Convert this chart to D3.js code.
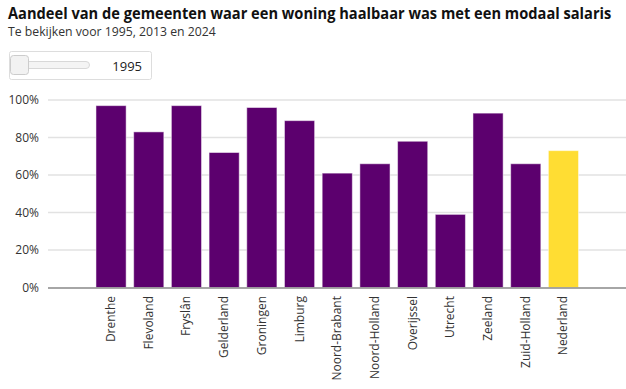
<!DOCTYPE html>
<html>
<head>
<meta charset="utf-8">
<script src="https://cdn.jsdelivr.net/npm/d3@7"></script>
<style>
  body { margin: 0; background: #fff; font-family: "Open Sans", sans-serif; }
  svg { display: block; }
</style>
</head>
<body>
<svg id="chart" width="626" height="389"></svg>
<script>
const provinces = ["Drenthe", "Flevoland", "Fryslân", "Gelderland", "Groningen", "Limburg",
  "Noord-Brabant", "Noord-Holland", "Overijssel", "Utrecht", "Zeeland", "Zuid-Holland", "Nederland"];
const share1995 = [97, 83, 97, 72, 96, 89, 61, 66, 78, 39, 93, 66, 73];
const yTicks = [0, 20, 40, 60, 80, 100];

const PURPLE = "#5c006e";
const YELLOW = "#ffdd33";

let svg = d3.select("#chart");

// Squeeze a text horizontally so it spans the given width
function fit_width(sel, x, y, width) {
  let w = sel.node().getComputedTextLength();
  let k = Math.min(1, width / w);
  sel.attr("x", 0).attr("y", 0)
    .attr("transform", `translate(${x},${y}) scale(${k},1)`);
}

// Title and subtitle
let title = svg.append("text")
  .style("font-size", "16px").style("font-weight", "bold").style("fill", "#111")
  .text("Aandeel van de gemeenten waar een woning haalbaar was met een modaal salaris");
fit_width(title, 8, 19, 604);
let subtitle = svg.append("text")
  .style("font-size", "12.5px").style("fill", "#333")
  .text("Te bekijken voor 1995, 2013 en 2024");
fit_width(subtitle, 8, 36, 208);

// Slider box (static)
let slider = svg.append("g");
slider.append("rect")
  .attr("x", 9.5).attr("y", 51.5).attr("width", 142).attr("height", 28).attr("rx", 2)
  .style("fill", "#fff").style("stroke", "#ddd");
slider.append("rect")
  .attr("x", 12.5).attr("y", 61.5).attr("width", 77).attr("height", 7).attr("rx", 3.5)
  .style("fill", "#f4f4f4").style("stroke", "#d8d8d8");
slider.append("rect")
  .attr("x", 10.5).attr("y", 55.5).attr("width", 18).attr("height", 19).attr("rx", 3)
  .style("fill", "#f2f2f2").style("stroke", "#ccc");
slider.append("text")
  .attr("x", 142).attr("y", 71).attr("text-anchor", "end")
  .style("font-size", "13px").style("fill", "#222")
  .text("1995");

// Scales
let x = d3.scaleBand()
  .domain(provinces)
  .range([92.2, 582.3])
  .paddingInner(0.2)
  .paddingOuter(0.1);
let y = d3.scaleLinear().domain([0, 100]).range([287.5, 100]);

// Gridlines and y labels
let grid = svg.append("g");
yTicks.forEach((t) => {
  if (t > 0) {
    grid.append("line")
      .attr("x1", 48).attr("x2", 626)
      .attr("y1", y(t)).attr("y2", y(t))
      .style("stroke", "#e2e2e2").style("stroke-width", 1.5);
  }
  grid.append("text")
    .attr("x", 39).attr("y", y(t)).attr("dy", "0.35em")
    .attr("text-anchor", "end")
    .style("font-size", "12px").style("fill", "#333")
    .text(t + "%");
});

// Bars
svg.append("g").selectAll("rect")
  .data(provinces)
  .join("rect")
  .attr("x", (d) => x(d))
  .attr("y", (d, i) => y(share1995[i]))
  .attr("width", x.bandwidth())
  .attr("height", (d, i) => y(0) - y(share1995[i]))
  .style("fill", (d) => (d == "Nederland" ? YELLOW : PURPLE))
  .style("stroke", "#fff")
  .style("stroke-opacity", 0.5)
  .style("stroke-width", 1);

// Axis baseline
svg.append("line")
  .attr("x1", 48).attr("x2", 626)
  .attr("y1", y(0) + 0.5).attr("y2", y(0) + 0.5)
  .style("stroke", "#888").style("stroke-width", 1.5);

// X labels
svg.append("g").selectAll("text")
  .data(provinces)
  .join("text")
  .attr("transform", (d) => `translate(${x(d) + x.bandwidth() / 2 + 4},296) rotate(-90)`)
  .attr("text-anchor", "end")
  .style("font-size", "12px").style("fill", "#333")
  .text((d) => d);
</script>
</body>
</html>
